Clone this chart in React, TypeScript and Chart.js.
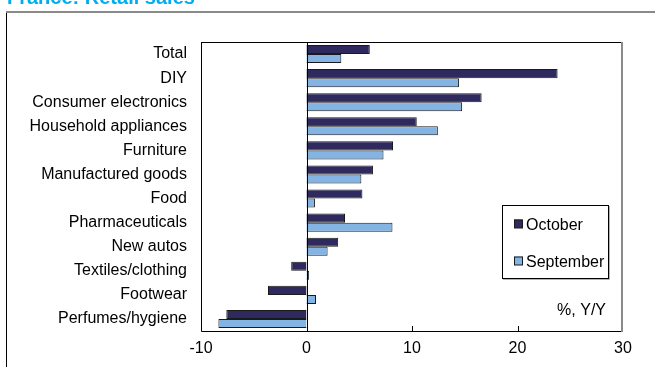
import { useEffect, useRef } from "react";
import { Chart, registerables } from "chart.js";

Chart.register(...registerables);

// Year-on-year change in retail sales by product group, %
const categories = [
  "Total",
  "DIY",
  "Consumer electronics",
  "Household appliances",
  "Furniture",
  "Manufactured goods",
  "Food",
  "Pharmaceuticals",
  "New autos",
  "Textiles/clothing",
  "Footwear",
  "Perfumes/hygiene",
];
const october = [6.0, 23.8, 16.6, 10.45, 8.2, 6.3, 5.3, 3.65, 3.0, -1.45, -3.65, -7.6];
const september = [3.3, 14.45, 14.75, 12.45, 7.3, 5.2, 0.8, 8.15, 2.0, 0.25, 0.9, -8.35];
const xTicks = [-10, 0, 10, 20, 30];

const seriesNames = ["October", "September"];
const seriesColors = ["#2f2a5e", "#84b4e4"];

const TITLE = "France: Retail sales";
const UNIT_NOTE = "%, Y/Y";
const FONT = "'Liberation Sans', Arial, sans-serif";
const FONT_SIZE = 16;

const decorations = {
  id: "decorations",
  afterDatasetsDraw(chart: any) {
    const { ctx, chartArea } = chart;
    const { left, right, top, bottom } = chartArea;
    const xs = chart.scales.x;
    ctx.save();

    // plot area frame
    ctx.strokeStyle = "#000";
    ctx.lineWidth = 1;
    ctx.beginPath();
    ctx.moveTo(left + 0.5, top + 0.5);
    ctx.lineTo(right - 1, top + 0.5);
    ctx.moveTo(left + 0.5, top);
    ctx.lineTo(left + 0.5, bottom + 0.5);
    ctx.lineTo(right - 1, bottom + 0.5);
    ctx.stroke();
    ctx.strokeStyle = "#8a8a8a";
    ctx.lineWidth = 2;
    ctx.beginPath();
    ctx.moveTo(right - 1, top);
    ctx.lineTo(right - 1, bottom + 1);
    ctx.stroke();

    // zero line
    const x0 = Math.round(xs.getPixelForValue(0)) + 0.5;
    ctx.strokeStyle = "#000";
    ctx.lineWidth = 1;
    ctx.beginPath();
    ctx.moveTo(x0, top);
    ctx.lineTo(x0, bottom);
    ctx.stroke();

    // inward tick marks on the value axis
    ctx.beginPath();
    for (const t of xs.ticks) {
      const px = Math.round(xs.getPixelForValue(t.value)) + 0.5;
      if (px <= left + 1 || px >= right - 2) continue;
      ctx.moveTo(px, bottom);
      ctx.lineTo(px, bottom - 5);
    }
    ctx.stroke();

    // legend box
    const lx = 502, ly = 205, lw = 106, lh = 73;
    ctx.strokeStyle = "#9a9a9a";
    ctx.lineWidth = 1.5;
    ctx.beginPath();
    ctx.moveTo(lx + lw + 1, ly + 1);
    ctx.lineTo(lx + lw + 1, ly + lh + 1);
    ctx.lineTo(lx + 1, ly + lh + 1);
    ctx.stroke();
    ctx.strokeStyle = "#000";
    ctx.lineWidth = 1;
    ctx.strokeRect(lx + 0.5, ly + 0.5, lw, lh);

    ctx.font = `${FONT_SIZE}px ${FONT}`;
    ctx.textBaseline = "alphabetic";
    ctx.textAlign = "left";
    chart.data.datasets.forEach((ds: any, i: number) => {
      const cy = 224 + i * 37;
      ctx.fillStyle = ds.backgroundColor;
      ctx.fillRect(514, cy - 4.5, 8.5, 8.5);
      ctx.strokeStyle = "#1a1a1a";
      ctx.strokeRect(514.5, cy - 4, 8, 8);
      ctx.fillStyle = "#000";
      ctx.fillText(ds.label, 526, cy + 5.5);
    });

    // unit note
    ctx.textAlign = "right";
    ctx.fillText(UNIT_NOTE, 606, 314.5);
    ctx.restore();
  },
  afterDraw(chart: any) {
    const { ctx, width, height } = chart;
    ctx.save();
    // outer frame
    ctx.strokeStyle = "#000";
    ctx.lineWidth = 1;
    ctx.beginPath();
    ctx.moveTo(6.5, 12);
    ctx.lineTo(6.5, height);
    ctx.stroke();
    ctx.strokeStyle = "#8a8a8a";
    ctx.lineWidth = 2;
    ctx.beginPath();
    ctx.moveTo(6, 12);
    ctx.lineTo(width, 12);
    ctx.stroke();
    // title
    ctx.fillStyle = "#00aeef";
    ctx.font = `bold 20px ${FONT}`;
    ctx.textAlign = "left";
    ctx.textBaseline = "alphabetic";
    ctx.fillText(TITLE, 7, 3.5);
    ctx.restore();
  },
};

export default function App() {
  const canvasRef = useRef<HTMLCanvasElement | null>(null);

  useEffect(() => {
    const canvas = canvasRef.current;
    if (!canvas) return;
    const tickFont = { family: FONT, size: FONT_SIZE };
    const chart = new Chart(canvas, {
      type: "bar",
      data: {
        labels: categories,
        datasets: [october, september].map((values, i) => ({
          label: seriesNames[i],
          data: values,
          backgroundColor: seriesColors[i],
          borderColor: "#1a1a1a",
          borderWidth: 1,
          categoryPercentage: 0.75,
          barPercentage: 1,
        })),
      },
      options: {
        indexAxis: "y",
        responsive: false,
        animation: false,
        layout: { padding: { top: 42, right: 32, left: 0, bottom: 0 } },
        plugins: {
          legend: { display: false },
          tooltip: { enabled: false },
          title: { display: false },
        },
        scales: {
          x: {
            type: "linear",
            min: -10,
            max: 30,
            afterBuildTicks: (scale: any) => {
              scale.ticks = xTicks.map((v) => ({ value: v }));
            },
            afterFit: (scale: any) => {
              scale.height = 36;
            },
            grid: { display: false, drawTicks: false },
            border: { display: false },
            ticks: { font: tickFont, color: "#000", padding: 8, maxRotation: 0 },
          },
          y: {
            type: "category",
            afterFit: (scale: any) => {
              scale.width = 201;
            },
            grid: { display: false, drawTicks: false },
            border: { display: false },
            ticks: { font: tickFont, color: "#000", padding: 14, autoSkip: false },
          },
        },
      } as any,
      plugins: [decorations],
    });
    return () => chart.destroy();
  }, []);

  return (
    <div style={{ position: "absolute", left: 0, top: 0, width: 655, height: 367, background: "#fff" }}>
      <canvas ref={canvasRef} width={655} height={367} style={{ display: "block" }} />
    </div>
  );
}
